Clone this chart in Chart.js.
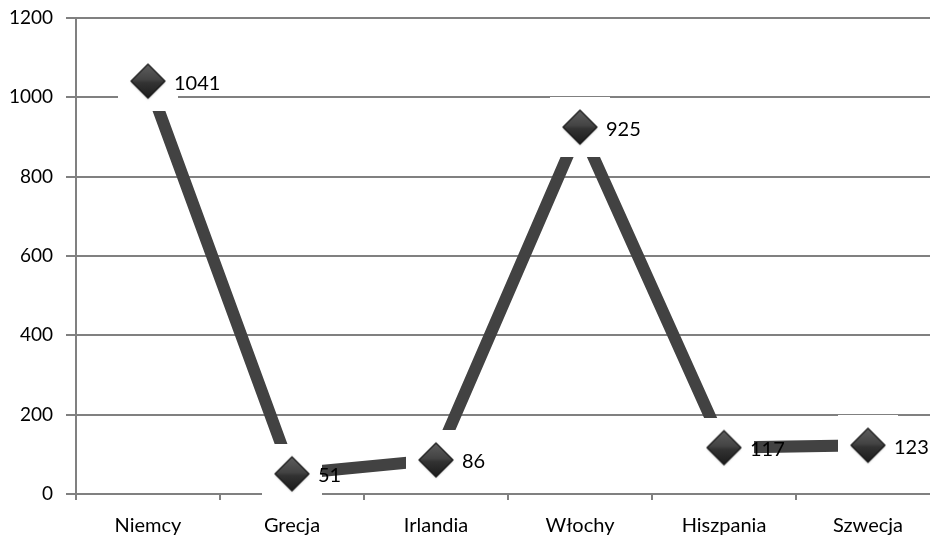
<!DOCTYPE html>
<html>
<head>
<meta charset="utf-8">
<script src="https://cdn.jsdelivr.net/npm/chart.js@4/dist/chart.umd.min.js"></script>
<style>
html, body { margin: 0; padding: 0; background: #fff; overflow: hidden; }
#wrap { width: 940px; height: 536px; }
</style>
</head>
<body>
<div id="wrap"><canvas id="c" width="940" height="536"></canvas></div>
<script>
const categories = ['Niemcy', 'Grecja', 'Irlandia', 'Włochy', 'Hiszpania', 'Szwecja'];
const values = [1041, 51, 86, 925, 117, 123];
const yTicks = [0, 200, 400, 600, 800, 1000, 1200];

const FONT = 'Lato, "Open Sans", sans-serif';

function makeMarker() {
  const cv = document.createElement('canvas');
  cv.width = 60; cv.height = 60;
  const g = cv.getContext('2d');
  g.fillStyle = '#ffffff';
  g.fillRect(0, 0, 60, 60);
  const cx = 30, cy = 30, r = 17;
  g.save();
  g.shadowColor = 'rgba(0,0,0,0.35)';
  g.shadowBlur = 2;
  g.shadowOffsetY = 1;
  g.beginPath();
  g.moveTo(cx, cy - r);
  g.lineTo(cx + r, cy);
  g.lineTo(cx, cy + r);
  g.lineTo(cx - r, cy);
  g.closePath();
  const grad = g.createLinearGradient(0, cy - r, 0, cy + r);
  grad.addColorStop(0, '#5e5e5e');
  grad.addColorStop(0.45, '#444444');
  grad.addColorStop(0.55, '#333333');
  grad.addColorStop(1, '#1c1c1c');
  g.fillStyle = grad;
  g.fill();
  g.restore();
  g.beginPath();
  g.moveTo(cx, cy - r);
  g.lineTo(cx + r, cy);
  g.lineTo(cx, cy + r);
  g.lineTo(cx - r, cy);
  g.closePath();
  g.lineJoin = 'round';
  g.lineWidth = 1.5;
  g.strokeStyle = 'rgba(20,20,20,0.8)';
  g.stroke();
  return cv;
}
const marker = makeMarker();

const labelPlugin = {
  id: 'valueLabels',
  afterDatasetsDraw(chart) {
    const ctx = chart.ctx;
    const meta = chart.getDatasetMeta(0);
    ctx.save();
    ctx.font = '20px ' + FONT;
    ctx.fillStyle = '#000';
    ctx.textAlign = 'left';
    ctx.textBaseline = 'middle';
    meta.data.forEach((pt, i) => {
      ctx.fillText(String(values[i]), pt.x + 26, pt.y + 2);
    });
    ctx.restore();
  }
};

new Chart(document.getElementById('c'), {
  type: 'line',
  data: {
    labels: categories,
    datasets: [{
      data: values,
      borderColor: '#424242',
      borderWidth: 12,
      borderCapStyle: 'butt',
      tension: 0,
      fill: false,
      pointStyle: marker,
      pointRadius: 17,
      pointHoverRadius: 17,
      clip: false
    }]
  },
  options: {
    responsive: false,
    animation: false,
    events: [],
    layout: { autoPadding: false, padding: { top: 18, left: 0, right: 0, bottom: 0 } },
    plugins: { legend: { display: false }, tooltip: { enabled: false } },
    scales: {
      x: {
        type: 'category',
        offset: true,
        afterFit(s) { s.height = 42; s.paddingLeft = 0; s.paddingRight = 0; },
        grid: {
          offset: true,
          drawOnChartArea: false,
          drawTicks: true,
          tickLength: 6,
          color: '#808080',
          lineWidth: 2
        },
        border: { display: true, color: '#808080', width: 2 },
        ticks: {
          color: '#000',
          font: { family: FONT, size: 20 },
          padding: 14,
          maxRotation: 0,
          autoSkip: false
        }
      },
      y: {
        min: 0,
        max: 1200,
        afterFit(s) { s.width = 76; s.paddingTop = 0; s.paddingBottom = 0; },
        afterBuildTicks(s) { s.ticks = yTicks.map(v => ({ value: v })); },
        grid: {
          drawTicks: true,
          tickLength: 10,
          color: '#808080',
          lineWidth: 2
        },
        border: { display: true, color: '#808080', width: 2 },
        ticks: {
          color: '#000',
          font: { family: FONT, size: 19 },
          padding: 13,
          callback: (v) => String(v)
        }
      }
    }
  },
  plugins: [labelPlugin]
});
</script>
</body>
</html>
